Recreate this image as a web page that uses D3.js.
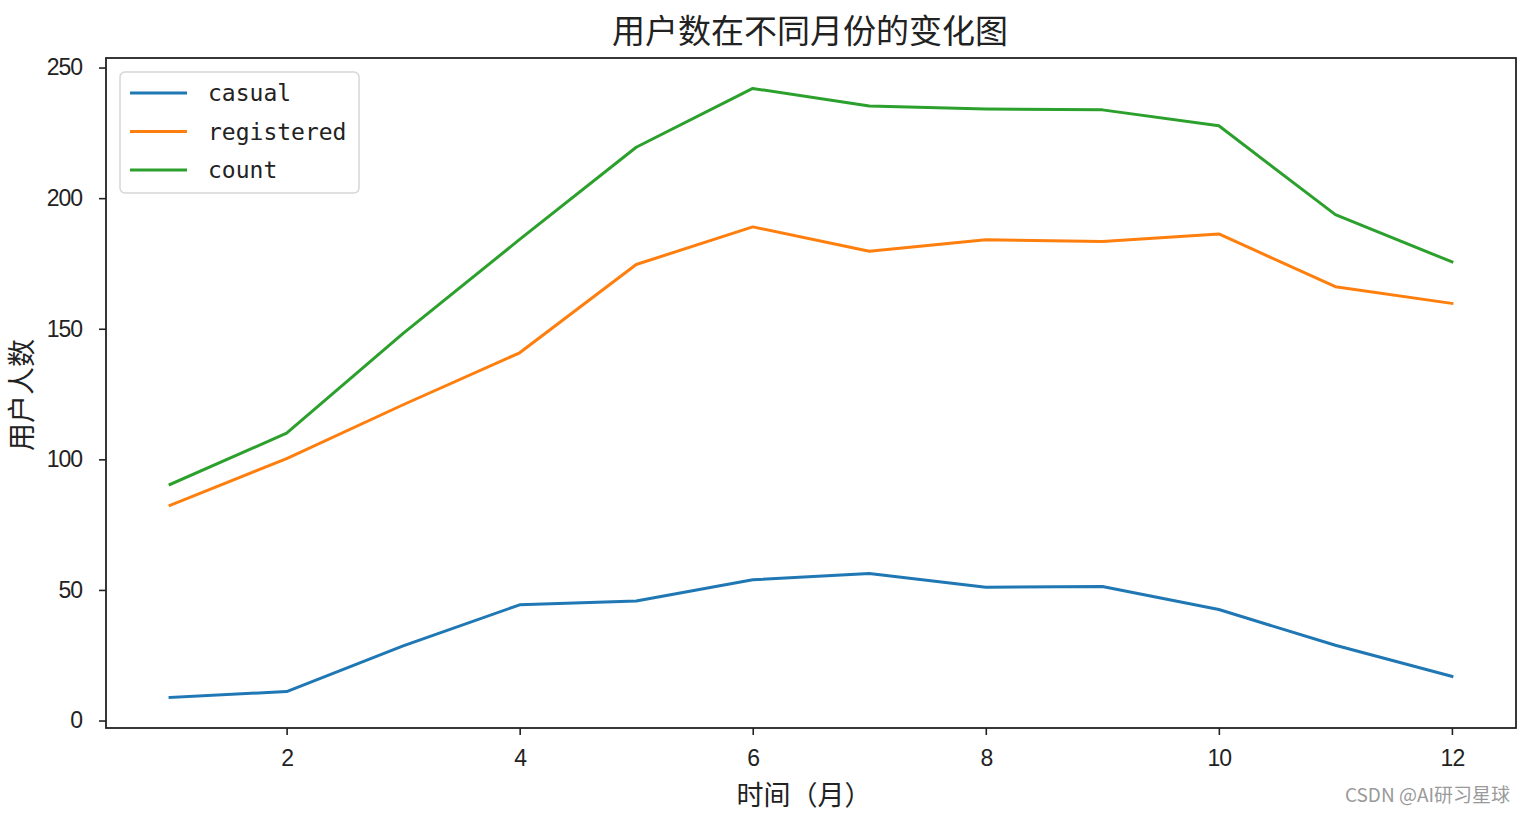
<!DOCTYPE html>
<html>
<head>
<meta charset="utf-8">
<script src="https://cdn.jsdelivr.net/npm/d3@7"></script>
<style>
  body { margin: 0; background: #fff; }
  text { fill: #222; }
</style>
</head>
<body>
<svg id="chart" width="1526" height="814"></svg>
<script>
const months = [1, 2, 3, 4, 5, 6, 7, 8, 9, 10, 11, 12];
const casual = [8.8, 11.1, 28.6, 44.3, 45.8, 53.9, 56.3, 51.0, 51.3, 42.5, 28.8, 16.9];
const registered = [82.4, 100.3, 120.9, 140.8, 174.6, 189.0, 179.7, 184.1, 183.4, 186.3, 166.1, 159.7];
const count = [90.4, 110.0, 148.2, 184.2, 219.5, 242.0, 235.3, 234.1, 233.8, 227.7, 193.7, 175.6];
const seriesNames = ["casual", "registered", "count"];
const colors = ["#1f77b4", "#ff7f0e", "#2ca02c"];
const xTicks = [2, 4, 6, 8, 10, 12];
const yTicks = [0, 50, 100, 150, 200, 250];

const width = 1526, height = 814;
const marginTop = 58, marginRight = 10, marginBottom = 86, marginLeft = 106;

const svg = d3.select("#chart");
const series = [casual, registered, count].map((vals, i) => ({
  name: seriesNames[i],
  color: colors[i],
  values: months.map((m, j) => ({ month: m, value: vals[j] }))
}));

// matplotlib style 5% margins
const xExt = d3.extent(months);
const xPad = (xExt[1] - xExt[0]) * 0.05;
const allVals = [].concat(casual, registered, count);
const yExt = d3.extent(allVals);
const yPad = (yExt[1] - yExt[0]) * 0.05;

const x = d3.scaleLinear()
  .domain([xExt[0] - xPad, xExt[1] + xPad])
  .range([marginLeft, width - marginRight]);

const y = d3.scaleLinear()
  .domain([yExt[0] - yPad, yExt[1] + yPad])
  .range([height - marginBottom, marginTop]);

const line = d3.line()
  .x(d => x(d.month))
  .y(d => y(d.value));

// lines
svg.append("g")
  .selectAll("path")
  .data(series)
  .join("path")
  .attr("fill", "none")
  .attr("stroke", d => d.color)
  .attr("stroke-width", 3)
  .attr("stroke-linejoin", "round")
  .attr("stroke-linecap", "square")
  .attr("d", d => line(d.values));

const tickFont = "'Liberation Sans', Arial, sans-serif";

// x axis
const xAxis = svg.append("g")
  .attr("transform", `translate(0,${height - marginBottom})`)
  .call(d3.axisBottom(x).tickValues(xTicks).tickSize(7).tickPadding(15).tickSizeOuter(0));
xAxis.select(".domain").remove();
xAxis.selectAll("line").attr("stroke", "#222").attr("stroke-width", 1.6);
xAxis.selectAll("text")
  .style("font-family", tickFont)
  .style("font-size", "23px")
  .style("letter-spacing", "-1px")
  .style("fill", "#222");

// y axis
const yAxis = svg.append("g")
  .attr("transform", `translate(${marginLeft},0)`)
  .call(d3.axisLeft(y).tickValues(yTicks).tickSize(7).tickPadding(17).tickSizeOuter(0));
yAxis.select(".domain").remove();
yAxis.selectAll("line").attr("stroke", "#222").attr("stroke-width", 1.6);
yAxis.selectAll("text")
  .style("font-family", tickFont)
  .style("font-size", "23px")
  .style("letter-spacing", "-1px")
  .style("fill", "#222");

// frame
svg.append("rect")
  .attr("x", marginLeft)
  .attr("y", marginTop)
  .attr("width", width - marginRight - marginLeft)
  .attr("height", height - marginBottom - marginTop)
  .attr("fill", "none")
  .attr("stroke", "#222")
  .attr("stroke-width", 1.8);

// title and labels
svg.append("text")
  .attr("x", 810)
  .attr("y", 43)
  .attr("text-anchor", "middle")
  .style("font-family", "'Noto Sans CJK SC', sans-serif")
  .style("font-size", "33px")
  .text("用户数在不同月份的变化图");

svg.append("text")
  .attr("transform", `translate(32,395) rotate(-90)`)
  .attr("text-anchor", "middle")
  .style("font-family", "'Noto Sans CJK SC', sans-serif")
  .style("font-size", "28px")
  .text("用户人数");

svg.append("text")
  .attr("x", 804)
  .attr("y", 805)
  .attr("text-anchor", "middle")
  .style("font-family", "'Noto Sans CJK SC', sans-serif")
  .style("font-size", "27px")
  .text("时间（月）");

// watermark
svg.append("text")
  .attr("x", 1510)
  .attr("y", 802)
  .attr("text-anchor", "end")
  .style("font-family", "'Noto Sans CJK SC', sans-serif")
  .style("font-size", "19px")
  .style("fill", "#9a9a9a")
  .text("CSDN @AI研习星球");

// legend
const legend = svg.append("g").attr("transform", "translate(120,72)");
legend.append("rect")
  .attr("width", 239)
  .attr("height", 121)
  .attr("rx", 5)
  .attr("fill", "#fff")
  .attr("fill-opacity", 0.8)
  .attr("stroke", "#d6d6d6")
  .attr("stroke-width", 1.5);

const items = legend.selectAll("g.item")
  .data(series)
  .join("g")
  .attr("class", "item")
  .attr("transform", (d, i) => `translate(0,${21 + i * 38.5})`);

items.append("line")
  .attr("x1", 10).attr("x2", 67)
  .attr("stroke", d => d.color)
  .attr("stroke-width", 3);

items.append("text")
  .attr("x", 88)
  .attr("dy", "0.35em")
  .style("font-family", "'DejaVu Sans Mono', monospace")
  .style("font-size", "23px")
  .style("fill", "#222")
  .text(d => d.name);
</script>
</body>
</html>
